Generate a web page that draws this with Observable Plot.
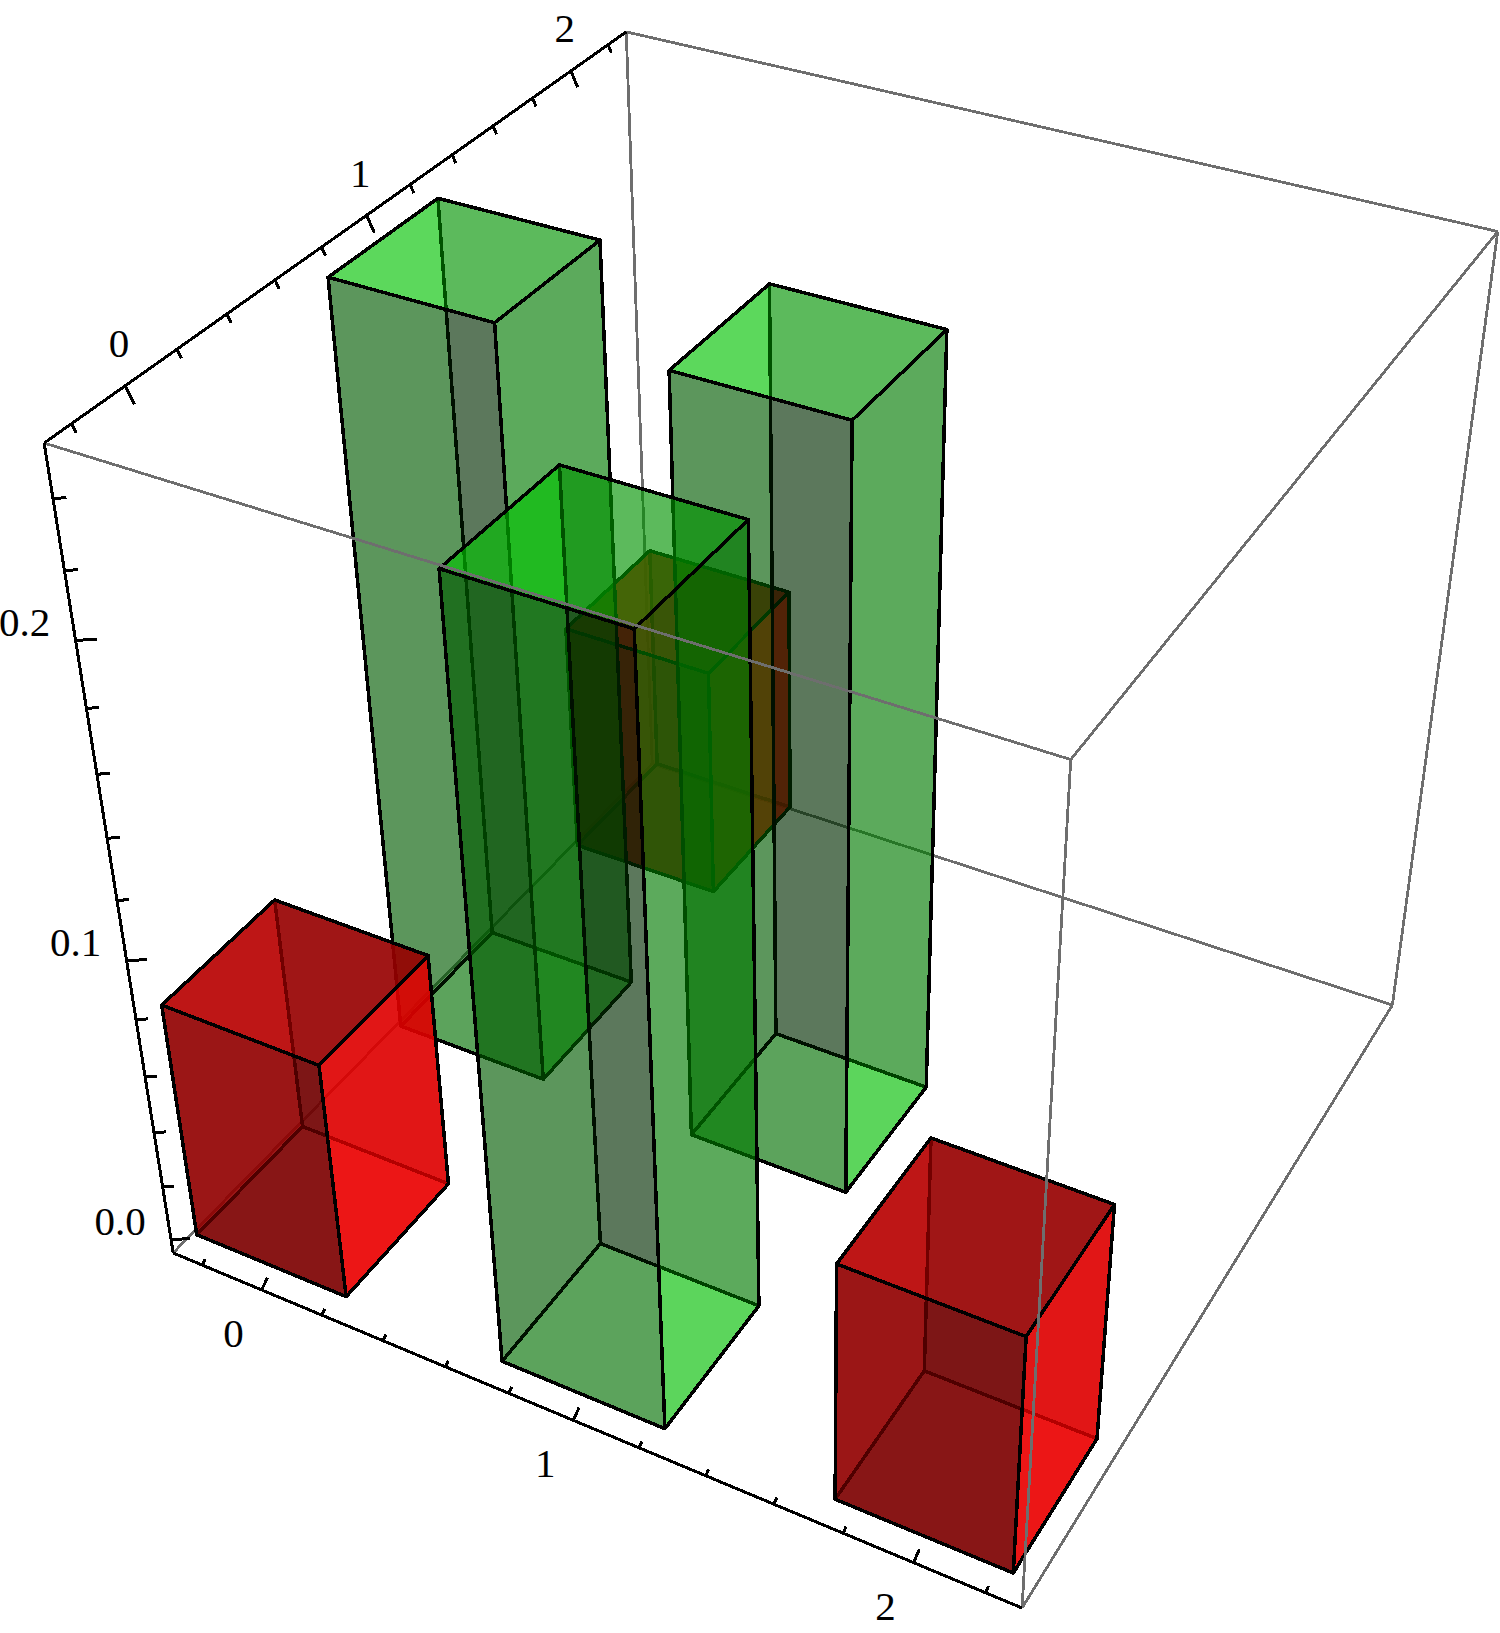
<!DOCTYPE html>
<html><head><meta charset="utf-8">
<script src="https://cdn.jsdelivr.net/npm/d3@7"></script>
<script src="https://cdn.jsdelivr.net/npm/@observablehq/plot@0.6"></script>
<style>body{margin:0;background:#fff}svg{display:block}</style>
</head><body><div id="c"></div>
<script>
// Data: one bar per grid cell, far bars first so the translucent faces stack correctly.
const barX = [0, 0, 1, 0, 1, 2];
const barY = [2, 1, 1, 0, 0, 0];
const barHeight = [1/12, 0.25, 0.25, 1/12, 0.25, 1/12];
const barKind = ["red", "green", "green", "red", "green", "red"];
const xyMajorTicks = [0, 1, 2];
const xyAllTicks = [-0.2, 0, 0.2, 0.4, 0.6, 0.8, 1, 1.2, 1.4, 1.6, 1.8, 2, 2.2];
const zMajorTicks = [0, 0.1, 0.2];
const zAllTicks = [0, 0.02, 0.04, 0.06, 0.08, 0.1, 0.12, 0.14, 0.16, 0.18, 0.2, 0.22, 0.24];
const halfWidth = 0.25;

// Plot range of the 3D box.
const xlo = -0.3, xhi = 2.3, ylo = -0.3, yhi = 2.3, zlo = -0.005, zhi = 0.255;

// Perspective camera: homogeneous 3x4 matrix, data coordinates -> picture coordinates.
const camera = [
  [270.6116, 223.58714, -499.76786, 310.29901],
  [66.43537, -123.07731, -3241.334, 1160.4436],
  [-0.041287145, 0.076744695, -0.64139648, 1]
];
const project = (x, y, z) => {
  const w = camera[2][0]*x + camera[2][1]*y + camera[2][2]*z + camera[2][3];
  return [
    (camera[0][0]*x + camera[0][1]*y + camera[0][2]*z + camera[0][3]) / w,
    (camera[1][0]*x + camera[1][1]*y + camera[1][2]*z + camera[1][3]) / w
  ];
};

const palette = {
  green: {alpha: 0.4, bottom: "rgb(0,233,0)", back: "rgb(0,50,0)", left: "rgb(0,177,0)", right: "rgb(0,165,0)", front: "rgb(0,40,0)", top: "rgb(0,205,0)"},
  red: {alpha: 0.7, bottom: "rgb(165,0,0)", back: "rgb(112,0,0)", left: "rgb(255,0,0)", right: "rgb(255,0,0)", front: "rgb(112,0,0)", top: "rgb(162,0,0)"}
};
const faceOrder = ["bottom", "back", "left", "right", "front", "top"];

function barFaces(i, j, h, kind) {
  const a = i - halfWidth, b = i + halfWidth, c = j - halfWidth, d = j + halfWidth;
  const corners = {
    bottom: [[a,c,0],[b,c,0],[b,d,0],[a,d,0]],
    back: [[a,d,0],[b,d,0],[b,d,h],[a,d,h]],
    left: [[a,c,0],[a,d,0],[a,d,h],[a,c,h]],
    right: [[b,c,0],[b,d,0],[b,d,h],[b,c,h]],
    front: [[a,c,0],[b,c,0],[b,c,h],[a,c,h]],
    top: [[a,c,h],[b,c,h],[b,d,h],[a,d,h]]
  };
  return faceOrder.flatMap(face => {
    const pts = corners[face];
    return [...pts, pts[0]].map(q => {
      const [px, py] = project(...q);
      return {px, py, face, color: palette[kind][face]};
    });
  });
}

const segments = rows => rows.map(([u, v]) => {
  const a = project(...u), b = project(...v);
  return {x1: a[0], y1: a[1], x2: b[0], y2: b[1]};
});

const boxBehind = segments([
  [[xlo,ylo,zlo],[xlo,yhi,zlo]],
  [[xlo,yhi,zlo],[xhi,yhi,zlo]],
  [[xlo,yhi,zlo],[xlo,yhi,zhi]]
]);
const boxInFront = segments([
  [[xhi,yhi,zlo],[xhi,ylo,zlo]],
  [[xhi,yhi,zlo],[xhi,yhi,zhi]],
  [[xlo,ylo,zhi],[xhi,ylo,zhi]],
  [[xhi,ylo,zhi],[xhi,yhi,zhi]],
  [[xhi,yhi,zhi],[xlo,yhi,zhi]],
  [[xhi,ylo,zhi],[xhi,ylo,zlo]]
]);
const axisLines = segments([
  [[xlo,ylo,zlo],[xhi,ylo,zlo]],
  [[xlo,ylo,zhi],[xlo,yhi,zhi]],
  [[xlo,ylo,zhi],[xlo,ylo,zlo]]
]);

const xySize = v => xyMajorTicks.includes(v) ? 1 : 0.5;
const zSize = v => zMajorTicks.includes(v) ? 1 : 0.6;
const tickLines = segments([
  ...xyAllTicks.map(v => [[v,ylo,zlo],[v,ylo + 0.03*xySize(v),zlo + 0.002*xySize(v)]]),
  ...xyAllTicks.map(v => [[xlo,v,zhi],[xlo + 0.02*xySize(v),v,zhi - 0.0045*xySize(v)]]),
  ...zAllTicks.map(v => [[xlo,ylo,v],[xlo + 0.042*zSize(v),ylo + 0.03*zSize(v),v]])
]);

const label = (q, dx, dy, t) => { const [px, py] = project(...q); return {px: px + dx, py: py + dy, t}; };
const tickLabels = [
  ...xyMajorTicks.map(v => label([v,ylo,zlo], -27, 42, String(v))),
  ...xyMajorTicks.map(v => label([xlo,v,zhi], -6, -40, String(v))),
  ...zMajorTicks.map(v => label([xlo,ylo,v], -49, -17, v.toFixed(1)))
];

const at = {x: "px", y: "py"};
const link = (data, stroke, strokeWidth) => Plot.link(data, {x1: "x1", y1: "y1", x2: "x2", y2: "y2", stroke, strokeWidth, shapeRendering: "crispEdges"});

const chart = Plot.plot({
  width: 1500, height: 1633, margin: 0,
  x: {domain: [0, 1440], range: [0, 1500], axis: null},
  y: {domain: [0, 1568], range: [0, 1633], axis: null},
  color: {type: "identity"},
  style: {background: "#fff"},
  marks: [
    link(boxBehind, "#6e6e6e", 2.8),
    ...barX.map((i, n) => Plot.line(barFaces(i, barY[n], barHeight[n], barKind[n]), {
      ...at, z: "face", fill: "color", fillOpacity: palette[barKind[n]].alpha,
      stroke: "#000", strokeWidth: 3.5, shapeRendering: "crispEdges", curve: "linear"
    })),
    link(boxInFront, "#6e6e6e", 2.8),
    link(axisLines, "#000", 3),
    link(tickLines, "#000", 3),
    Plot.text(tickLabels, {...at, text: "t", fontFamily: "Liberation Serif", fontSize: 41, fill: "#000"})
  ]
});
document.getElementById("c").append(chart);
</script></body></html>
